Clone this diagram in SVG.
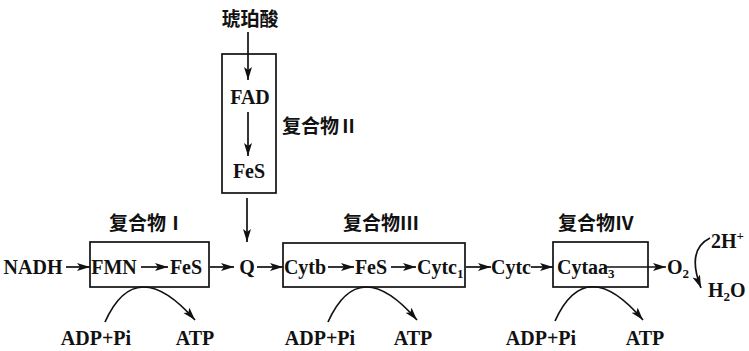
<svg xmlns="http://www.w3.org/2000/svg" width="749" height="351" viewBox="0 0 749 351">
<defs>
<marker id="ah" markerUnits="userSpaceOnUse" markerWidth="14" markerHeight="9" refX="13" refY="4" orient="auto">
<path d="M0,0 L13,4 L0,8 L3,4 Z" fill="#111"/>
</marker>
</defs>
<style>
.t{font-family:"Liberation Serif","DejaVu Serif",serif;font-weight:bold;font-size:20px;fill:#111}
.c{font-family:"Noto Sans CJK SC","Liberation Serif",sans-serif;font-weight:bold;font-size:19px;fill:#111}
.m{text-anchor:middle}
.box{fill:none;stroke:#111;stroke-width:1.7}
.ln{fill:none;stroke:#111;stroke-width:1.7;marker-end:url(#ah)}
.sub{font-size:13px}
</style>
<rect width="749" height="351" fill="#fff"/>

<g id="succinate"><text class="c m" x="250" y="26" font-size="20">琥珀酸</text></g>
<g id="complex2">
<rect class="box" x="222" y="54" width="54" height="139"/>
<text class="t m" x="250" y="104">FAD</text>
<text class="t m" x="249" y="178">FeS</text>
<text class="c" x="282" y="133">复合物Ⅱ</text>
</g>
<g id="nadh"><text class="t m" x="33" y="274">NADH</text></g>
<g id="complex1">
<rect class="box" x="90" y="242" width="119" height="45"/>
<text class="t m" x="114" y="274">FMN</text>
<text class="t m" x="186" y="274">FeS</text>
<text class="c m" x="147" y="230">复合物Ⅰ</text>
</g>
<g id="q"><text class="t m" x="247" y="274">Q</text></g>
<g id="complex3">
<rect class="box" x="283" y="243" width="182" height="44"/>
<text class="t m" x="305" y="274">Cytb</text>
<text class="t m" x="371" y="274">FeS</text>
<text class="t" x="417" y="274">Cytc<tspan class="sub" dy="4">1</tspan></text>
<text class="c m" x="381" y="230">复合物Ⅲ</text>
</g>
<g id="cytc"><text class="t m" x="511" y="274">Cytc</text></g>
<g id="complex4">
<rect class="box" x="553" y="242" width="95" height="45"/>
<text class="t" x="557" y="274">Cytaa<tspan class="sub" dy="4">3</tspan></text>
<text class="c m" x="596" y="230">复合物Ⅳ</text>
</g>
<g id="o2"><text class="t" x="667" y="274">O<tspan class="sub" dy="4">2</tspan></text></g>
<g id="h"><text class="t" x="711" y="248">2H<tspan class="sub" dy="-8">+</tspan></text></g>
<g id="h2o"><text class="t" x="708" y="297">H<tspan class="sub" dy="4">2</tspan><tspan dy="-4">O</tspan></text></g>
<g id="atp1"><text class="t m" x="96" y="345">ADP+Pi</text><text class="t m" x="195" y="345">ATP</text></g>
<g id="atp3"><text class="t m" x="320" y="345">ADP+Pi</text><text class="t m" x="413" y="345">ATP</text></g>
<g id="atp4"><text class="t m" x="541" y="345">ADP+Pi</text><text class="t m" x="645" y="345">ATP</text></g>

<g id="connectors">
<line class="ln" x1="248" y1="32" x2="248" y2="80"/>
<line class="ln" x1="248" y1="112" x2="248" y2="156"/>
<line class="ln" x1="247" y1="198" x2="247" y2="242"/>
<line class="ln" x1="66" y1="267" x2="90" y2="267"/>
<line class="ln" x1="141" y1="267" x2="168" y2="267"/>
<line class="ln" x1="210" y1="267" x2="234" y2="267"/>
<line class="ln" x1="257" y1="267" x2="283" y2="267"/>
<line class="ln" x1="328" y1="267" x2="354" y2="267"/>
<line class="ln" x1="391" y1="267" x2="416" y2="267"/>
<line class="ln" x1="466" y1="267" x2="491" y2="267"/>
<line class="ln" x1="531" y1="267" x2="553" y2="267"/>
<line class="ln" x1="604" y1="267" x2="666" y2="267"/>
<path class="ln" d="M105,322 Q136,253 195,320"/>
<path class="ln" d="M328,322 Q359,253 417,320"/>
<path class="ln" d="M555,321 Q586,253 643,320"/>
<path class="ln" d="M710,238 Q686,250 701,288"/>
</g>
</svg>
